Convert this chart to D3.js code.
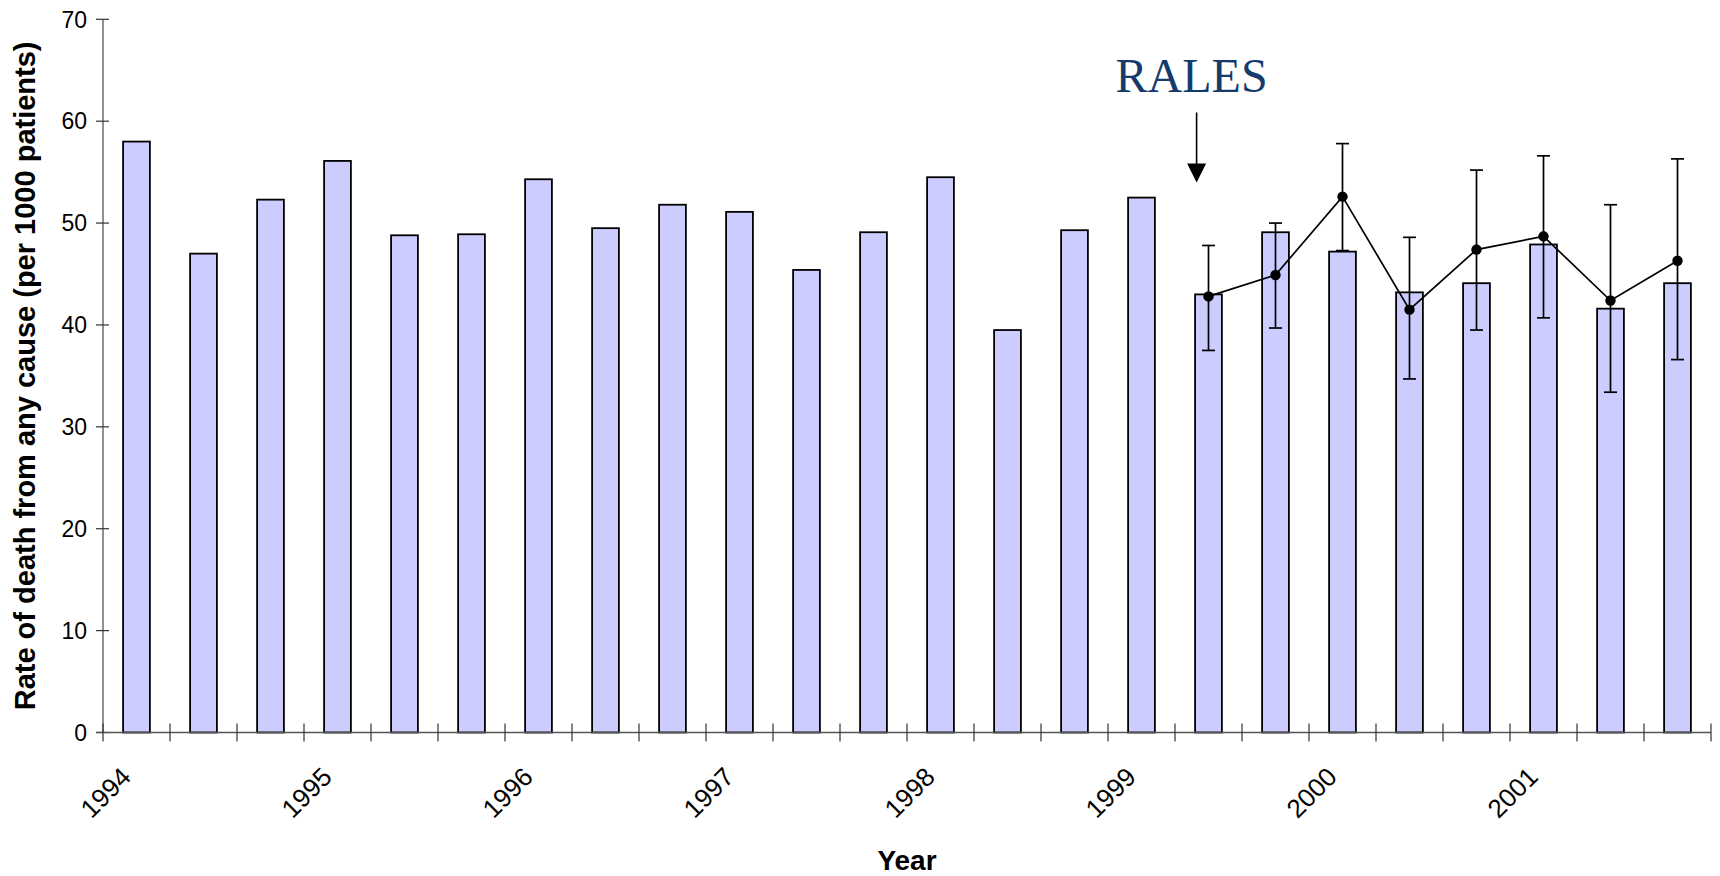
<!DOCTYPE html>
<html>
<head>
<meta charset="utf-8">
<script src="https://cdn.jsdelivr.net/npm/d3@7"></script>
<style>
  html, body { margin: 0; padding: 0; background: #ffffff; }
  svg { display: block; }
</style>
</head>
<body>
<svg id="chart" width="1720" height="876"></svg>
<script>
// Four-month periods, 1994 to 2001
const periods = [
  "1994-1", "1994-2", "1994-3", "1995-1", "1995-2", "1995-3",
  "1996-1", "1996-2", "1996-3", "1997-1", "1997-2", "1997-3",
  "1998-1", "1998-2", "1998-3", "1999-1", "1999-2", "1999-3",
  "2000-1", "2000-2", "2000-3", "2001-1", "2001-2", "2001-3"
];

// Rate of death from any cause, per 1000 patients (bars)
const deathRate = [
  58.0, 47.0, 52.3, 56.1, 48.8, 48.9,
  54.3, 49.5, 51.8, 51.1, 45.4, 49.1,
  54.5, 39.5, 49.3, 52.5, 43.0, 49.1,
  47.2, 43.2, 44.1, 47.9, 41.6, 44.1
];

// Line series with error bars, from the period of RALES publication onward
const linePeriods = ["1999-2", "1999-3", "2000-1", "2000-2", "2000-3", "2001-1", "2001-2", "2001-3"];
const lineRate  = [42.8, 44.9, 52.6, 41.5, 47.4, 48.7, 42.4, 46.3];
const lineUpper = [47.8, 50.0, 57.8, 48.6, 55.2, 56.6, 51.8, 56.3];
const lineLower = [37.5, 39.7, 47.3, 34.7, 39.5, 40.7, 33.4, 36.6];

// Year labels shown under the first period of each year
const yearLabels = ["1994", "1995", "1996", "1997", "1998", "1999", "2000", "2001"];
const yearLabelPeriods = ["1994-1", "1995-1", "1996-1", "1997-1", "1998-1", "1999-1", "2000-1", "2001-1"];

const yTicks = [0, 10, 20, 30, 40, 50, 60, 70];

const annotationText = "RALES";
const annotationPeriod = "1999-2";

const svg = d3.select("#chart");

const x = d3.scaleBand()
  .domain(periods)
  .range([103, 1711])
  .paddingInner(0.6)
  .paddingOuter(0.3);

const y = d3.scaleLinear()
  .domain([0, 70])
  .range([732.5, 19.3]);

const step = x.step();
const x0 = x.range()[0];
const axisY = y(0);
const center = p => x(p) + x.bandwidth() / 2;

// Bars
svg.append("g")
  .selectAll("rect")
  .data(periods)
  .join("rect")
  .attr("x", p => x(p))
  .attr("y", (p, i) => y(deathRate[i]))
  .attr("width", x.bandwidth())
  .attr("height", (p, i) => axisY - y(deathRate[i]))
  .attr("fill", "#ccccff")
  .attr("stroke", "#000")
  .attr("stroke-width", 1.8);

// Y axis
const yAxis = svg.append("g").attr("class", "y-axis");
yAxis.append("line")
  .attr("x1", x0).attr("x2", x0)
  .attr("y1", y(70)).attr("y2", axisY)
  .attr("stroke", "#555").attr("stroke-width", 1.3);
yAxis.selectAll("line.tick")
  .data(yTicks)
  .join("line")
  .attr("class", "tick")
  .attr("x1", x0 - 7).attr("x2", x0 + 6)
  .attr("y1", d => y(d)).attr("y2", d => y(d))
  .attr("stroke", "#333").attr("stroke-width", 1.2);
yAxis.selectAll("text")
  .data(yTicks)
  .join("text")
  .attr("x", x0 - 16)
  .attr("y", d => y(d))
  .attr("dy", "0.36em")
  .attr("text-anchor", "end")
  .attr("font-family", "Liberation Sans, Arial, sans-serif")
  .attr("font-size", 23)
  .attr("fill", "#000")
  .text(d => d);

// X axis
const boundaries = d3.range(periods.length + 1).map(i => x0 + i * step);
const xAxis = svg.append("g").attr("class", "x-axis");
xAxis.append("line")
  .attr("x1", x0 - 7).attr("x2", x.range()[1])
  .attr("y1", axisY).attr("y2", axisY)
  .attr("stroke", "#555").attr("stroke-width", 1.3);
xAxis.selectAll("line.tick")
  .data(boundaries)
  .join("line")
  .attr("class", "tick")
  .attr("x1", d => d).attr("x2", d => d)
  .attr("y1", axisY - 9).attr("y2", axisY + 9)
  .attr("stroke", "#333").attr("stroke-width", 1.2);
xAxis.selectAll("text")
  .data(yearLabels)
  .join("text")
  .attr("text-anchor", "end")
  .attr("font-family", "Liberation Sans, Arial, sans-serif")
  .attr("font-size", 26)
  .attr("fill", "#000")
  .attr("transform", (d, i) => {
    const cx = center(yearLabelPeriods[i]) - 4;
    const cy = axisY + 46;
    return `translate(${cx},${cy}) rotate(-45)`;
  })
  .text(d => d);

// Axis titles
svg.append("text")
  .attr("transform", `translate(35, ${(y(70) + axisY) / 2}) rotate(-90)`)
  .attr("text-anchor", "middle")
  .attr("font-family", "Liberation Sans, Arial, sans-serif")
  .attr("font-weight", "bold")
  .attr("font-size", 29)
  .attr("fill", "#000")
  .text("Rate of death from any cause (per 1000 patients)");

svg.append("text")
  .attr("x", (x.range()[0] + x.range()[1]) / 2)
  .attr("y", 870)
  .attr("text-anchor", "middle")
  .attr("font-family", "Liberation Sans, Arial, sans-serif")
  .attr("font-weight", "bold")
  .attr("font-size", 28)
  .attr("fill", "#000")
  .text("Year");

// Error bars
const errG = svg.append("g");
linePeriods.forEach((p, i) => {
  const cx = center(p);
  errG.append("line")
    .attr("x1", cx).attr("x2", cx)
    .attr("y1", y(lineUpper[i])).attr("y2", y(lineLower[i]))
    .attr("stroke", "#000").attr("stroke-width", 1.7);
  [lineUpper[i], lineLower[i]].forEach(v => {
    errG.append("line")
      .attr("x1", cx - 6.5).attr("x2", cx + 6.5)
      .attr("y1", y(v)).attr("y2", y(v))
      .attr("stroke", "#000").attr("stroke-width", 1.7);
  });
});

// Line with markers
const line = d3.line()
  .x((d, i) => center(linePeriods[i]))
  .y(d => y(d));
svg.append("path")
  .datum(lineRate)
  .attr("d", line)
  .attr("fill", "none")
  .attr("stroke", "#000")
  .attr("stroke-width", 1.7);
svg.append("g")
  .selectAll("circle")
  .data(lineRate)
  .join("circle")
  .attr("cx", (d, i) => center(linePeriods[i]))
  .attr("cy", d => y(d))
  .attr("r", 5.2)
  .attr("fill", "#000");

// RALES annotation with arrow
const arrowX = x(annotationPeriod) + 1.5;
const arrowTop = 112.5;
const arrowTip = 182.5;
svg.append("line")
  .attr("x1", arrowX).attr("x2", arrowX)
  .attr("y1", arrowTop).attr("y2", arrowTip - 16)
  .attr("stroke", "#000").attr("stroke-width", 1.6);
const head = d3.path();
head.moveTo(arrowX - 9.5, arrowTip - 19);
head.lineTo(arrowX + 9.5, arrowTip - 19);
head.lineTo(arrowX, arrowTip);
head.closePath();
svg.append("path")
  .attr("d", head.toString())
  .attr("fill", "#000");
svg.append("text")
  .attr("x", arrowX - 5)
  .attr("y", 92)
  .attr("text-anchor", "middle")
  .attr("font-family", "Liberation Serif, Times New Roman, serif")
  .attr("font-size", 48)
  .attr("fill", "#153a6c")
  .text(annotationText);
</script>
</body>
</html>
